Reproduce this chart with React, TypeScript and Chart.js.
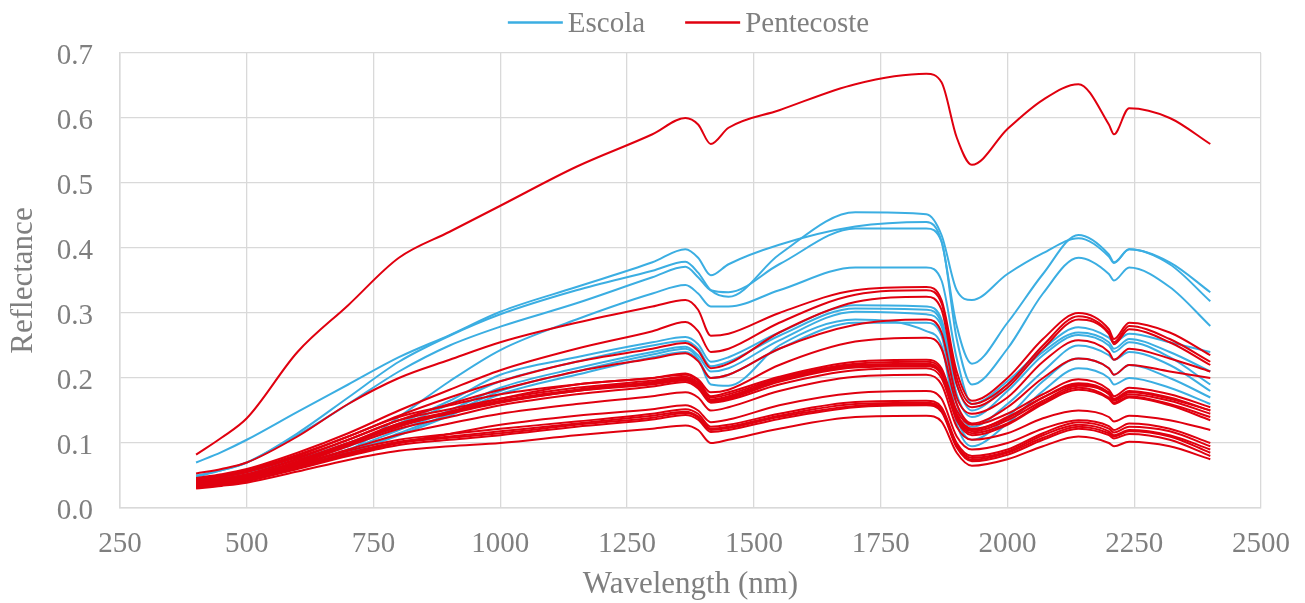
import { useEffect, useRef } from "react";
import { Chart, registerables } from "chart.js";

Chart.register(...registerables);

// Wavelength sample positions (nm)
const WAVELENGTHS = [400, 450, 500, 600, 700, 800, 900, 1000, 1150, 1300, 1365, 1390, 1415, 1450, 1550, 1700, 1840, 1870, 1900, 1930, 2000, 2070, 2140, 2200, 2210, 2240, 2320, 2400];

const X_TICKS = [250, 500, 750, 1000, 1250, 1500, 1750, 2000, 2250, 2500];
const Y_TICKS = [0, 0.1, 0.2, 0.3, 0.4, 0.5, 0.6, 0.7];

// Escola spectra
const ESCOLA_1 = [0.07, 0.086, 0.105, 0.148, 0.19, 0.232, 0.266, 0.302, 0.34, 0.378, 0.398, 0.385, 0.358, 0.375, 0.405, 0.433, 0.44, 0.41, 0.28, 0.222, 0.285, 0.36, 0.42, 0.39, 0.378, 0.398, 0.375, 0.318];
const ESCOLA_2 = [0.048, 0.058, 0.07, 0.115, 0.17, 0.225, 0.265, 0.298, 0.335, 0.365, 0.379, 0.362, 0.335, 0.325, 0.39, 0.455, 0.452, 0.42, 0.335, 0.32, 0.36, 0.392, 0.415, 0.387, 0.377, 0.398, 0.378, 0.332];
const ESCOLA_3 = [0.05, 0.058, 0.07, 0.112, 0.16, 0.21, 0.25, 0.279, 0.315, 0.355, 0.371, 0.355, 0.335, 0.332, 0.375, 0.43, 0.43, 0.41, 0.26, 0.19, 0.245, 0.33, 0.385, 0.36, 0.35, 0.37, 0.34, 0.28];
const ESCOLA_4 = [0.04, 0.044, 0.05, 0.065, 0.088, 0.14, 0.195, 0.243, 0.29, 0.33, 0.343, 0.33, 0.31, 0.31, 0.335, 0.37, 0.37, 0.35, 0.23, 0.16, 0.195, 0.245, 0.278, 0.262, 0.255, 0.268, 0.255, 0.24];
const ESCOLA_5 = [0.042, 0.047, 0.055, 0.075, 0.1, 0.13, 0.165, 0.205, 0.232, 0.255, 0.263, 0.252, 0.225, 0.232, 0.27, 0.312, 0.31, 0.29, 0.19, 0.15, 0.19, 0.24, 0.27, 0.255, 0.245, 0.26, 0.24, 0.21];
const ESCOLA_6 = [0.038, 0.043, 0.05, 0.07, 0.095, 0.125, 0.16, 0.195, 0.225, 0.25, 0.257, 0.245, 0.218, 0.225, 0.265, 0.307, 0.305, 0.285, 0.175, 0.14, 0.18, 0.235, 0.266, 0.25, 0.24, 0.255, 0.232, 0.19];
const ESCOLA_7 = [0.036, 0.041, 0.047, 0.066, 0.09, 0.12, 0.15, 0.185, 0.215, 0.24, 0.248, 0.235, 0.21, 0.215, 0.258, 0.302, 0.298, 0.28, 0.16, 0.125, 0.16, 0.21, 0.25, 0.235, 0.228, 0.24, 0.22, 0.18];
const ESCOLA_8 = [0.034, 0.039, 0.045, 0.063, 0.085, 0.112, 0.142, 0.175, 0.205, 0.232, 0.24, 0.228, 0.2, 0.205, 0.245, 0.285, 0.285, 0.265, 0.14, 0.105, 0.14, 0.195, 0.23, 0.215, 0.205, 0.22, 0.2, 0.17];
const ESCOLA_9 = [0.035, 0.04, 0.046, 0.064, 0.087, 0.115, 0.145, 0.18, 0.21, 0.236, 0.245, 0.23, 0.19, 0.188, 0.25, 0.29, 0.272, 0.25, 0.13, 0.095, 0.13, 0.18, 0.215, 0.2, 0.19, 0.2, 0.185, 0.16];

// Pentecoste spectra
const PENTE_0 = [0.082, 0.108, 0.138, 0.24, 0.312, 0.385, 0.425, 0.465, 0.525, 0.575, 0.6, 0.59, 0.56, 0.585, 0.612, 0.652, 0.668, 0.655, 0.57, 0.528, 0.583, 0.628, 0.652, 0.59, 0.575, 0.615, 0.6, 0.56];
const PENTE_1 = [0.053, 0.06, 0.07, 0.11, 0.16, 0.2, 0.228, 0.255, 0.285, 0.31, 0.32, 0.305, 0.265, 0.268, 0.3, 0.335, 0.34, 0.32, 0.21, 0.165, 0.2, 0.26, 0.3, 0.275, 0.26, 0.285, 0.27, 0.235];
const PENTE_2 = [0.046, 0.052, 0.06, 0.085, 0.115, 0.15, 0.182, 0.212, 0.245, 0.272, 0.286, 0.272, 0.24, 0.245, 0.285, 0.328, 0.335, 0.315, 0.2, 0.16, 0.19, 0.25, 0.295, 0.27, 0.255, 0.28, 0.26, 0.225];
const PENTE_3 = [0.045, 0.05, 0.058, 0.082, 0.11, 0.142, 0.17, 0.195, 0.225, 0.245, 0.254, 0.242, 0.215, 0.222, 0.27, 0.317, 0.325, 0.305, 0.19, 0.155, 0.185, 0.245, 0.29, 0.268, 0.252, 0.275, 0.255, 0.22];
const PENTE_4 = [0.043, 0.048, 0.055, 0.078, 0.105, 0.135, 0.16, 0.182, 0.21, 0.23, 0.238, 0.226, 0.2, 0.205, 0.245, 0.282, 0.29, 0.27, 0.17, 0.145, 0.17, 0.225, 0.258, 0.24, 0.228, 0.245, 0.23, 0.21];
const PENTE_5 = [0.04, 0.045, 0.052, 0.074, 0.1, 0.125, 0.148, 0.168, 0.19, 0.2, 0.207, 0.198, 0.178, 0.182, 0.22, 0.256, 0.262, 0.245, 0.16, 0.13, 0.155, 0.2, 0.23, 0.215, 0.205, 0.22, 0.21, 0.2];
const PENTE_6 = [0.042, 0.048, 0.056, 0.08, 0.11, 0.14, 0.158, 0.175, 0.19, 0.2, 0.205, 0.196, 0.172, 0.178, 0.202, 0.225, 0.228, 0.215, 0.15, 0.128, 0.145, 0.175, 0.198, 0.182, 0.172, 0.185, 0.175, 0.155];
const PENTE_7 = [0.04, 0.045, 0.052, 0.076, 0.105, 0.135, 0.152, 0.168, 0.185, 0.196, 0.202, 0.193, 0.17, 0.175, 0.2, 0.222, 0.225, 0.212, 0.145, 0.122, 0.138, 0.17, 0.192, 0.178, 0.168, 0.18, 0.17, 0.15];
const PENTE_8 = [0.038, 0.043, 0.05, 0.072, 0.1, 0.13, 0.148, 0.165, 0.182, 0.194, 0.2, 0.19, 0.167, 0.172, 0.198, 0.22, 0.222, 0.208, 0.14, 0.118, 0.135, 0.165, 0.188, 0.175, 0.165, 0.175, 0.165, 0.145];
const PENTE_9 = [0.036, 0.041, 0.048, 0.07, 0.097, 0.126, 0.145, 0.162, 0.18, 0.192, 0.198, 0.188, 0.165, 0.17, 0.196, 0.218, 0.22, 0.206, 0.138, 0.115, 0.13, 0.162, 0.185, 0.17, 0.162, 0.172, 0.16, 0.14];
const PENTE_10 = [0.037, 0.042, 0.049, 0.071, 0.098, 0.128, 0.146, 0.163, 0.18, 0.19, 0.196, 0.186, 0.163, 0.168, 0.194, 0.216, 0.218, 0.205, 0.142, 0.12, 0.14, 0.17, 0.19, 0.176, 0.166, 0.178, 0.168, 0.15];
const PENTE_11 = [0.035, 0.04, 0.047, 0.068, 0.095, 0.122, 0.14, 0.158, 0.175, 0.187, 0.194, 0.184, 0.162, 0.166, 0.19, 0.212, 0.215, 0.2, 0.135, 0.112, 0.128, 0.16, 0.182, 0.168, 0.16, 0.17, 0.158, 0.135];
const PENTE_12 = [0.036, 0.041, 0.047, 0.067, 0.09, 0.113, 0.13, 0.145, 0.16, 0.172, 0.178, 0.17, 0.15, 0.155, 0.18, 0.202, 0.205, 0.19, 0.125, 0.105, 0.115, 0.138, 0.15, 0.14, 0.133, 0.142, 0.135, 0.12];
const PENTE_13 = [0.034, 0.038, 0.044, 0.062, 0.082, 0.1, 0.114, 0.128, 0.142, 0.152, 0.158, 0.15, 0.132, 0.136, 0.158, 0.177, 0.18, 0.168, 0.11, 0.09, 0.1, 0.122, 0.135, 0.126, 0.12, 0.13, 0.122, 0.1];
const PENTE_14 = [0.034, 0.038, 0.045, 0.066, 0.088, 0.105, 0.114, 0.122, 0.133, 0.145, 0.152, 0.145, 0.125, 0.128, 0.145, 0.163, 0.165, 0.155, 0.1, 0.08, 0.09, 0.115, 0.132, 0.122, 0.116, 0.125, 0.118, 0.095];
const PENTE_15 = [0.033, 0.037, 0.043, 0.064, 0.085, 0.102, 0.11, 0.118, 0.13, 0.142, 0.148, 0.141, 0.122, 0.125, 0.142, 0.16, 0.162, 0.152, 0.097, 0.077, 0.087, 0.112, 0.128, 0.118, 0.112, 0.12, 0.112, 0.09];
const PENTE_16 = [0.032, 0.036, 0.042, 0.062, 0.083, 0.1, 0.108, 0.115, 0.128, 0.139, 0.146, 0.139, 0.12, 0.123, 0.14, 0.157, 0.16, 0.15, 0.095, 0.074, 0.085, 0.108, 0.125, 0.115, 0.11, 0.118, 0.11, 0.085];
const PENTE_17 = [0.031, 0.035, 0.041, 0.06, 0.08, 0.097, 0.105, 0.112, 0.125, 0.136, 0.143, 0.136, 0.117, 0.12, 0.137, 0.155, 0.158, 0.148, 0.093, 0.072, 0.082, 0.105, 0.122, 0.112, 0.107, 0.114, 0.105, 0.08];
const PENTE_18 = [0.03, 0.034, 0.039, 0.056, 0.074, 0.088, 0.095, 0.1, 0.112, 0.122, 0.127, 0.12, 0.1, 0.105, 0.122, 0.14, 0.142, 0.133, 0.085, 0.065, 0.075, 0.095, 0.11, 0.1, 0.095, 0.102, 0.095, 0.075];

const ESCOLA_SERIES = [ESCOLA_1, ESCOLA_2, ESCOLA_3, ESCOLA_4, ESCOLA_5, ESCOLA_6, ESCOLA_7, ESCOLA_8, ESCOLA_9];
const PENTECOSTE_SERIES = [PENTE_0, PENTE_1, PENTE_2, PENTE_3, PENTE_4, PENTE_5, PENTE_6, PENTE_7, PENTE_8, PENTE_9, PENTE_10, PENTE_11, PENTE_12, PENTE_13, PENTE_14, PENTE_15, PENTE_16, PENTE_17, PENTE_18];

const LEGEND_LABELS = ["Escola", "Pentecoste"];

const BLUE = "#3BAEE2";
const RED = "#E0000F";
const FONT_FAMILY = "'Liberation Serif', 'Times New Roman', serif";
const TEXT_COLOR = "#7f7f7f";
const GRID_COLOR = "#d9d9d9";
const FONT_SIZE = 29;
const TITLE_SIZE = 31;

const legendPlugin = {
  id: "topLegend",
  afterDraw(chart: any) {
    const { ctx, chartArea } = chart;
    ctx.save();
    ctx.font = `${FONT_SIZE}px ${FONT_FAMILY}`;
    const colors = [BLUE, RED];
    const lineW = 55;
    const gap = 5;
    const itemGap = 40;
    const widths = LEGEND_LABELS.map((l) => lineW + gap + ctx.measureText(l).width);
    const total = widths.reduce((a, b) => a + b, 0) + itemGap * (widths.length - 1);
    let x = (chartArea.left + chartArea.right) / 2 - total / 2 - 2;
    const yLine = 22.5;
    const yText = 32;
    LEGEND_LABELS.forEach((label, i) => {
      ctx.strokeStyle = colors[i];
      ctx.lineWidth = 2.5;
      ctx.beginPath();
      ctx.moveTo(x, yLine);
      ctx.lineTo(x + lineW, yLine);
      ctx.stroke();
      ctx.fillStyle = TEXT_COLOR;
      ctx.textBaseline = "alphabetic";
      ctx.textAlign = "left";
      ctx.fillText(label, x + lineW + gap, yText);
      x += widths[i] + itemGap;
    });
    ctx.restore();
  },
};

export default function App() {
  const canvasRef = useRef<HTMLCanvasElement | null>(null);

  useEffect(() => {
    if (!canvasRef.current) return;
    const makeDataset = (label: string, values: number[], color: string) => ({
      label,
      data: WAVELENGTHS.map((w, i) => ({ x: w, y: values[i] })),
      borderColor: color,
      backgroundColor: color,
      borderWidth: 2,
      pointRadius: 0,
      pointHoverRadius: 0,
      fill: false,
      cubicInterpolationMode: "monotone" as const,
    });
    const datasets = [
      ...PENTECOSTE_SERIES.map((s) => makeDataset(LEGEND_LABELS[1], s, RED)),
      ...ESCOLA_SERIES.map((s) => makeDataset(LEGEND_LABELS[0], s, BLUE)),
    ];

    const chart = new Chart(canvasRef.current, {
      type: "line",
      data: { datasets },
      plugins: [legendPlugin],
      options: {
        animation: false,
        responsive: true,
        maintainAspectRatio: false,
        layout: { padding: { top: 53, right: 44, left: 0, bottom: 0 } },
        plugins: {
          legend: { display: false },
          tooltip: { enabled: false },
        },
        scales: {
          x: {
            type: "linear",
            min: X_TICKS[0],
            max: X_TICKS[X_TICKS.length - 1],
            afterBuildTicks: (scale: any) => {
              scale.ticks = X_TICKS.map((v) => ({ value: v }));
            },
            afterFit: (scale: any) => {
              scale.height = 95;
              scale.paddingLeft = 0;
              scale.paddingRight = 0;
            },
            ticks: {
              color: TEXT_COLOR,
              font: { family: FONT_FAMILY, size: FONT_SIZE },
              padding: 19,
              maxRotation: 0,
              autoSkip: false,
              callback: (v: any) => String(v),
            },
            grid: { color: GRID_COLOR, lineWidth: 1.3, drawTicks: false },
            border: { color: GRID_COLOR, width: 1.5 },
            title: {
              display: true,
              text: "Wavelength (nm)",
              color: TEXT_COLOR,
              font: { family: FONT_FAMILY, size: TITLE_SIZE },
              padding: { top: 0, bottom: 0 },
            },
          },
          y: {
            type: "linear",
            min: Y_TICKS[0],
            max: Y_TICKS[Y_TICKS.length - 1],
            afterBuildTicks: (scale: any) => {
              scale.ticks = Y_TICKS.map((v) => ({ value: v }));
            },
            afterFit: (scale: any) => {
              scale.width = 120;
            },
            ticks: {
              color: TEXT_COLOR,
              font: { family: FONT_FAMILY, size: FONT_SIZE },
              padding: 27,
              labelOffset: 3,
              callback: (v: any) => Number(v).toFixed(1),
            },
            grid: { color: GRID_COLOR, lineWidth: 1.3, drawTicks: false },
            border: { color: GRID_COLOR, width: 1.5 },
            title: {
              display: true,
              text: "Reflectance",
              color: TEXT_COLOR,
              font: { family: FONT_FAMILY, size: TITLE_SIZE },
              padding: { top: 5, bottom: 0 },
            },
          },
        },
      },
    });
    return () => chart.destroy();
  }, []);

  return (
    <div style={{ position: "fixed", left: 0, top: 0, width: 1305, height: 603, background: "#fff" }}>
      <canvas ref={canvasRef} />
    </div>
  );
}
